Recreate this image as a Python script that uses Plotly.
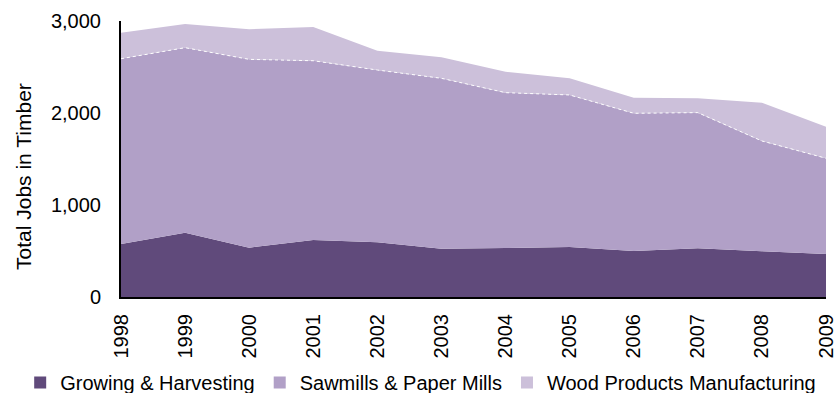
import plotly.graph_objects as go

years = ["1998", "1999", "2000", "2001", "2002", "2003",
         "2004", "2005", "2006", "2007", "2008", "2009"]
growing = [576, 699, 536, 620, 595, 525, 533, 543, 500, 529, 497, 467]
sawmills = [2014, 2011, 2047, 1948, 1872, 1852, 1688, 1653, 1497, 1475, 1199, 1041]
wood = [283, 257, 327, 367, 210, 228, 228, 181, 169, 156, 416, 343]

series = [
    ("Growing & Harvesting", growing, "#604a7b"),
    ("Sawmills & Paper Mills", sawmills, "#b1a0c7"),
    ("Wood Products Manufacturing", wood, "#ccc0da"),
]

FONT = "Liberation Sans, Arial, sans-serif"

fig = go.Figure()
for name, vals, color in series:
    # the boundary between sawmills and wood products is a dotted white line
    dotted = name.startswith("Sawmills")
    fig.add_trace(go.Scatter(
        x=years, y=vals, name=name, stackgroup="jobs", mode="lines",
        line=dict(width=1 if dotted else 0,
                  color="#ffffff" if dotted else color,
                  dash="dot" if dotted else "solid"),
        fillcolor=color, showlegend=False))

# square swatches for the legend
for name, vals, color in series:
    fig.add_trace(go.Scatter(
        x=[None], y=[None], name=name, mode="markers",
        marker=dict(symbol="square", size=12, color=color),
        showlegend=True))

fig.update_layout(
    width=838, height=393,
    margin=dict(l=121, r=12, t=21, b=96, autoexpand=False),
    paper_bgcolor="white", plot_bgcolor="white",
    font=dict(family=FONT, size=20, color="#000000"),
    showlegend=True,
    legend=dict(orientation="h", x=-0.143, xanchor="left",
                y=-0.31, yanchor="middle", bgcolor="rgba(0,0,0,0)",
                font=dict(size=20), traceorder="normal",
                itemwidth=30, tracegroupgap=0),
    annotations=[dict(
        text="Total Jobs in Timber", textangle=-90,
        xref="paper", yref="paper", x=(24 - 121) / 705, y=0.435,
        xanchor="center", yanchor="middle", showarrow=False,
        font=dict(size=21, family=FONT, color="#000000"))],
)
fig.update_xaxes(
    type="category", range=[0, 11], showgrid=False, zeroline=False,
    showline=True, linecolor="#000000", linewidth=2,
    tickangle=-90, ticks="", ticklabelstandoff=7,
    tickfont=dict(size=20, family=FONT))
fig.update_yaxes(
    range=[0, 3000], tickvals=[0, 1000, 2000, 3000],
    ticktext=["0", "1,000", "2,000", "3,000"],
    showgrid=False, zeroline=False,
    showline=True, linecolor="#000000", linewidth=2,
    ticks="", ticklabelstandoff=14,
    tickfont=dict(size=20, family=FONT))

fig.write_html("out.html")
